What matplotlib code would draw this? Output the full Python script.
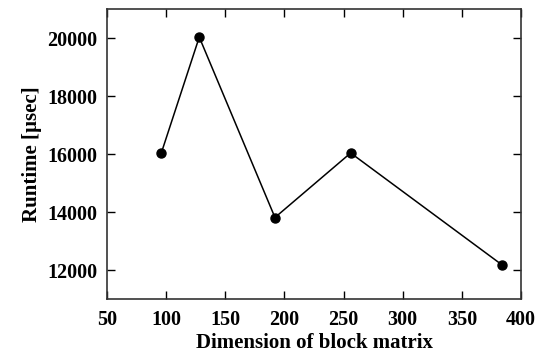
import matplotlib
matplotlib.use("Agg")
import matplotlib.pyplot as plt

dims = [96, 128, 192, 256, 384]
runtime = [16045, 20030, 13810, 16035, 12175]
xticks = [50, 100, 150, 200, 250, 300, 350, 400]
yticks = [12000, 14000, 16000, 18000, 20000]

plt.rcParams['font.family'] = ['Liberation Serif', 'DejaVu Serif']
plt.rcParams['font.weight'] = 'bold'

fig = plt.figure(figsize=(5.41, 3.56), dpi=100)
ax = fig.add_axes([107/541, 1 - 299/356, (521-107)/541, (299-9)/356])
ax.plot(dims, runtime, color='black', lw=1.1, marker='o', markersize=6.5)
ax.set_xlim(50, 400)
ax.set_ylim(11000, 21000)
ax.set_xticks(xticks)
ax.set_yticks(yticks)
ax.tick_params(direction='in', top=True, right=True, length=6, width=1, labelsize=14.5, colors='black')
ax.tick_params(axis='x', pad=8)
ax.tick_params(axis='y', pad=7)
for lab in ax.get_xticklabels() + ax.get_yticklabels():
    lab.set_fontweight('bold')
for s in ax.spines.values():
    s.set_linewidth(1.2)
    s.set_color('#333333')
ax.set_xlabel('Dimension of block matrix', fontsize=15, fontweight='bold', labelpad=2)
ax.set_ylabel('Runtime [µsec]', fontsize=15, fontweight='bold', labelpad=4)
fig.savefig('out.png', dpi=100)
